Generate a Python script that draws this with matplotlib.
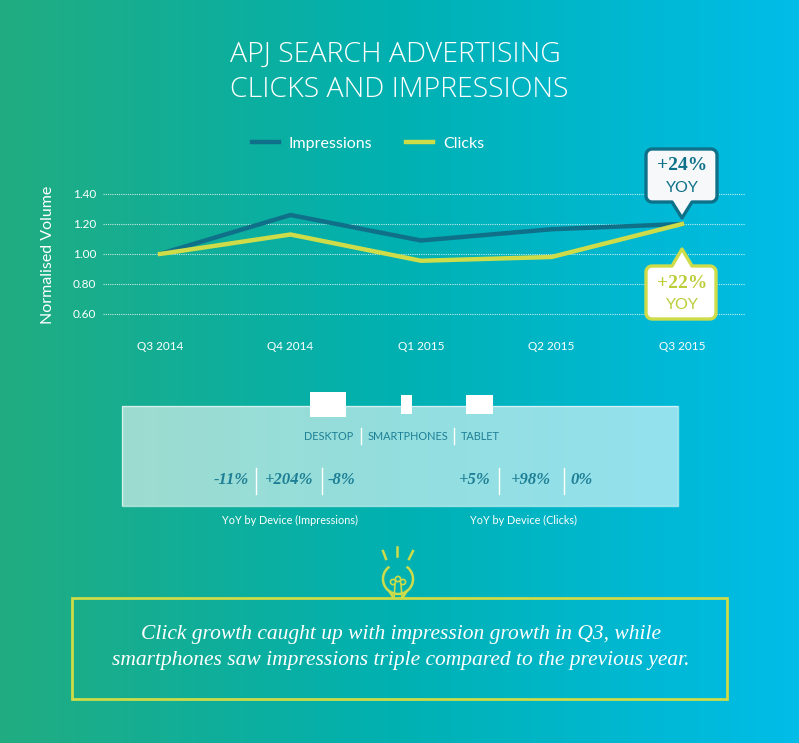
import numpy as np
import matplotlib
matplotlib.use('Agg')
import matplotlib.pyplot as plt
from matplotlib.patches import Rectangle, Polygon, Circle, Arc

# data
quarters = ['Q3 2014', 'Q4 2014', 'Q1 2015', 'Q2 2015', 'Q3 2015']
impressions = [1.00, 1.26, 1.09, 1.165, 1.20]
clicks = [1.00, 1.13, 0.955, 0.98, 1.20]
yticks = [0.60, 0.80, 1.00, 1.20, 1.40]

devices = ['DESKTOP', 'SMARTPHONES', 'TABLET']
yoy_impr = ['-11%', '+204%', '-8%']
yoy_clicks = ['+5%', '+98%', '0%']
impr_growth = '+24%'
click_growth = '+22%'

W, H = 799, 743
TEAL = '#0f7189'
LIME = '#cddc48'
TEXT_TEAL = '#1d7f95'

fig = plt.figure(figsize=(W / 100, H / 100), dpi=100)

# background layer in pixel coords (y down)
bg = fig.add_axes([0, 0, 1, 1], zorder=0)
bg.set_xlim(0, W)
bg.set_ylim(H, 0)
bg.axis('off')
stops = np.array([[33, 172, 128], [0, 177, 178], [0, 189, 232]]) / 255
t = np.linspace(0, 1, 400)
grad = np.stack([np.interp(t, [0, 0.5, 1], stops[:, c]) for c in range(3)], axis=-1)
bg.imshow(grad[None, :, :], extent=[0, W, H, 0], aspect='auto', zorder=0)

bg.text(W / 2 - 4, 55, 'APJ SEARCH ADVERTISING', color='white', fontsize=20.5,
        family='Open Sans', weight='light', ha='center', va='center')
bg.text(W / 2, 90, 'CLICKS AND IMPRESSIONS', color='white', fontsize=20.5,
        family='Open Sans', weight='light', ha='center', va='center')

# line chart
ax = fig.add_axes([103 / W, 1 - 329 / H, 642 / W, 150 / H], zorder=1)
ax.patch.set_alpha(0)
x = np.arange(len(quarters))
l1, = ax.plot(x, impressions, color=TEAL, lw=3.2, solid_joinstyle='miter', label='Impressions')
l2, = ax.plot(x, clicks, color=LIME, lw=3.2, solid_joinstyle='miter', label='Clicks')
ax.set_xlim(-57 / 130.5, 585 / 130.5)
ax.set_ylim(0.5, 1.5)
ax.set_yticks(yticks)
ax.set_yticklabels(['%.2f' % v for v in yticks])
ax.set_xticks(x)
ax.set_xticklabels(quarters)
ax.tick_params(length=0, colors='white', labelsize=8.5)
ax.tick_params(axis='x', pad=9)
ax.tick_params(axis='y', pad=5)
for lab in ax.get_xticklabels() + ax.get_yticklabels():
    lab.set_family('Lato')
for s in ax.spines.values():
    s.set_visible(False)
ax.grid(axis='y', color='white', ls=(0, (1, 1)), lw=0.8, alpha=0.75)
ax.set_axisbelow(True)
bg.text(48, 255, 'Normalised Volume', color='white', fontsize=11.5, family='Lato',
        rotation=90, ha='center', va='center')

fig.legend(handles=[l1, l2], loc='center', bbox_to_anchor=(368 / W, 1 - 144 / H),
           ncol=2, frameon=False, labelcolor='white',
           handlelength=1.7, columnspacing=2.1, handletextpad=0.6,
           prop={'family': 'Lato', 'size': 11.5})

# callouts on top
top = fig.add_axes([0, 0, 1, 1], zorder=2)
top.set_xlim(0, W)
top.set_ylim(H, 0)
top.axis('off')
top.patch.set_alpha(0)


def to_px(xv, yv):
    dx, dy = ax.transData.transform((xv, yv))
    return dx, H - dy


def callout(x0, y0, x1, y1, tip, up, r=6, n=8):
    pts = []
    def arc(cx, cy, a0, a1):
        for a in np.linspace(a0, a1, n):
            pts.append((cx + r * np.cos(a), cy + r * np.sin(a)))
    tx, ty = tip
    arc(x0 + r, y0 + r, np.pi, 1.5 * np.pi)
    if up:
        pts += [(tx - 10, y0), (tx, ty), (tx + 10, y0)]
    arc(x1 - r, y0 + r, 1.5 * np.pi, 2 * np.pi)
    arc(x1 - r, y1 - r, 0, 0.5 * np.pi)
    if not up:
        pts += [(tx + 10, y1), (tx, ty), (tx - 10, y1)]
    arc(x0 + r, y1 - r, 0.5 * np.pi, np.pi)
    return pts


px, py = to_px(x[-1], impressions[-1])
top.add_patch(Polygon(callout(px - 36, py - 75, px + 35, py - 22, (px, py - 6), False),
                      closed=True, fc='#f6f8f9', ec=TEAL, lw=2.4, joinstyle='round'))
top.text(px, py - 58, impr_growth, color=TEAL, fontsize=14, family='Liberation Serif',
         weight='bold', ha='center', va='center')
top.text(px, py - 36, 'YOY', color=TEAL, fontsize=11.5, family='Lato', ha='center', va='center')

px, py = to_px(x[-1], clicks[-1])
top.add_patch(Polygon(callout(px - 36, py + 42, px + 34, py + 95, (px, py + 25), True),
                      closed=True, fc='white', ec=LIME, lw=2.4, joinstyle='round'))
top.text(px, py + 59, click_growth, color='#bccd3a', fontsize=14, family='Liberation Serif',
         weight='bold', ha='center', va='center')
top.text(px, py + 81, 'YOY', color='#bccd3a', fontsize=11.5, family='Lato', ha='center', va='center')

# device panel
bg.add_patch(Rectangle((122, 406), 556, 100, fc='white', alpha=0.58, ec='none', zorder=2))
bg.add_patch(Rectangle((122, 406), 556, 100, fc='none', ec='white', alpha=0.6, lw=1, zorder=2))
for (tx0, ty0, tw, th) in [(310, 392, 36, 25), (401, 395, 11, 19), (466, 395, 27, 19)]:
    bg.add_patch(Rectangle((tx0, ty0), tw, th, fc='white', ec='none', zorder=3))

dev_x = [329, 408, 480]
for d, xc in zip(devices, dev_x):
    bg.text(xc, 436, d, color=TEXT_TEAL, fontsize=7.8, family='Lato', ha='center',
            va='center', zorder=4)
for sx in [361, 454]:
    bg.plot([sx, sx], [428, 444], color='white', lw=1, zorder=4)

impr_x = [231, 289, 342]
click_x = [475, 531, 582]
for vals, xs in [(yoy_impr, impr_x), (yoy_clicks, click_x)]:
    for v, xc in zip(vals, xs):
        bg.text(xc, 480, v, color=TEXT_TEAL, fontsize=12, family='Liberation Serif',
                weight='bold', style='italic', ha='center', va='center', zorder=4)
for sx in [256, 322, 499, 564]:
    bg.plot([sx, sx], [468, 494], color='white', lw=1, zorder=4)

bg.text(290, 520, 'YoY by Device (Impressions)', color='white', fontsize=7.8,
        family='Lato', ha='center', va='center')
bg.text(524, 520, 'YoY by Device (Clicks)', color='white', fontsize=7.8,
        family='Lato', ha='center', va='center')

# light bulb
bx, by = 398, 579
bg.add_patch(Arc((bx, by), 30, 30, theta1=-55, theta2=235, color=LIME, lw=1.8))
for sgn in (-1, 1):
    bg.plot([bx + sgn * 15 * np.cos(np.radians(55)), bx + sgn * 5],
            [by + 15 * np.sin(np.radians(55)), 597], color=LIME, lw=1.8)
bg.plot([bx - 15, bx - 12], [551, 559], color=LIME, lw=1.8)
bg.plot([bx - 1, bx - 1], [547, 556], color=LIME, lw=1.8)
bg.plot([bx + 15, bx + 11], [551, 559], color=LIME, lw=1.8)
for dx in (-5, 0, 5):
    bg.add_patch(Circle((bx + dx, by + 3 - (3 if dx == 0 else 0)), 2.6, fc='none', ec=LIME, lw=1.2))
for dx in (-3, 3):
    bg.plot([bx + dx, bx + dx * 1.3], [by + 5, 597], color=LIME, lw=1.2)

# summary box
bg.add_patch(Rectangle((72, 598), 655, 101, fc='none', ec=LIME, lw=2))
bg.text(401, 635, 'Click growth caught up with impression growth in Q3, while',
        color='white', fontsize=15.5, family='Liberation Serif', style='italic',
        ha='center', va='center')
bg.text(401, 661, 'smartphones saw impressions triple compared to the previous year.',
        color='white', fontsize=15.5, family='Liberation Serif', style='italic',
        ha='center', va='center')

fig.savefig('out.png', dpi=100)
